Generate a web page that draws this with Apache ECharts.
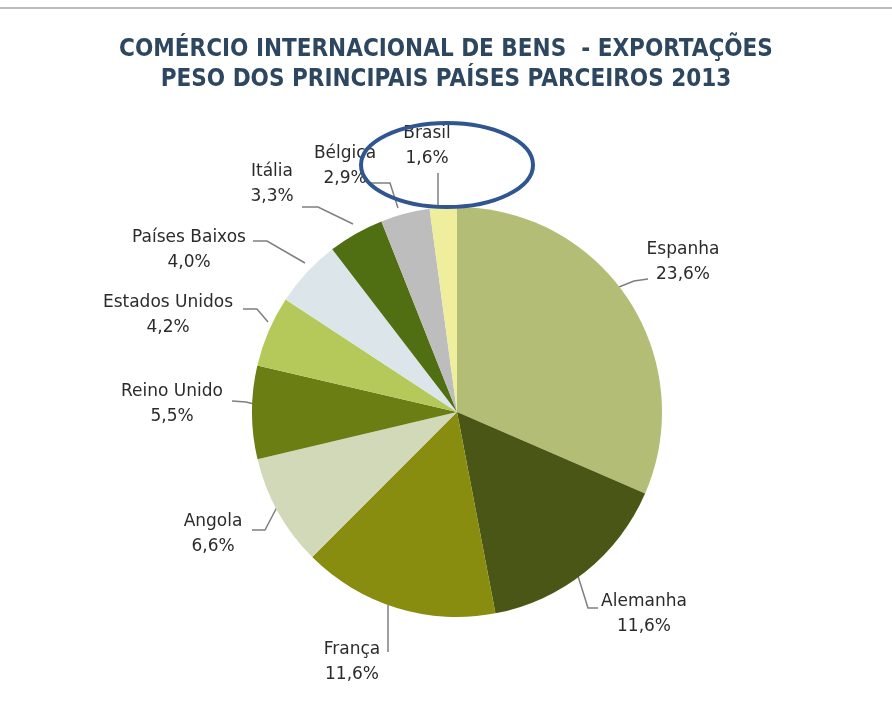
<!DOCTYPE html>
<html>
<head>
<meta charset="utf-8">
<script src="https://cdn.jsdelivr.net/npm/echarts@6/dist/echarts.min.js"></script>
<style>
  html, body { margin: 0; padding: 0; background: #fff; }
  #chart { width: 892px; height: 715px; }
</style>
</head>
<body>
<div id="chart"></div>
<script>
// países parceiros, sentido horário a partir do topo
const countries = ["Espanha", "Alemanha", "França", "Angola", "Reino Unido",
  "Estados Unidos", "Países Baixos", "Itália", "Bélgica", "Brasil"];
const shares = [23.6, 11.6, 11.6, 6.6, 5.5, 4.2, 4.0, 3.3, 2.9, 1.6];
const colors = ["#b3bd76", "#4a5615", "#898d0f", "#d2d9b9", "#6a7e14",
  "#b5c95b", "#dce6ea", "#4f6f12", "#bdbdbd", "#eeee9c"];

// onde fica o centro de cada etiqueta e o traço até à fatia (layout, não dados)
const labelCenters = [[683, 262], [644, 614], [352, 662], [213, 534], [172, 404],
  [168, 315], [189, 250], [272, 184], [345, 166], [427, 146]];
const leaderLines = [
  [[619, 287], [634, 281], [648, 279]],
  [[578, 576], [588, 608], [598, 608]],
  [[388, 605], [388, 630], [388, 652]],
  [[277, 507], [265, 530], [252, 530]],
  [[254, 404], [246, 402], [232, 401]],
  [[268, 322], [257, 309], [243, 309]],
  [[305, 263], [267, 241], [253, 241]],
  [[353, 224], [318, 207], [302, 207]],
  [[398, 208], [390, 183], [370, 183]],
  [[438, 208], [438, 190], [438, 173]],
];

const chart = echarts.init(document.getElementById("chart"));

const pieData = countries.map((name, i) => ({
  name: name,
  value: shares[i],
  itemStyle: { color: colors[i] },
}));

const option = {
  animation: false,
  title: {
    text: "COMÉRCIO INTERNACIONAL DE BENS  - EXPORTAÇÕES\nPESO DOS PRINCIPAIS PAÍSES PARCEIROS 2013",
    left: "center",
    top: 30,
    textStyle: {
      fontFamily: "DejaVu Sans Condensed",
      fontWeight: "bold",
      fontSize: 24,
      lineHeight: 30,
      color: "#2e4760",
    },
  },
  graphic: [
    {
      type: "line",
      shape: { x1: 0, y1: 8, x2: 892, y2: 8 },
      style: { stroke: "#bbbbbb", lineWidth: 2 },
    },
    {
      type: "ellipse",
      shape: { cx: 447, cy: 165, rx: 86, ry: 42 },
      style: { fill: null, stroke: "#2f5690", lineWidth: 4 },
      z: 100,
    },
  ],
  series: [
    {
      type: "pie",
      center: [457, 412],
      radius: [0, 205],
      startAngle: 90,
      clockwise: true,
      data: pieData,
      label: {
        show: true,
        formatter: (p) => "{n|" + p.name + "}\n{n|" + p.value.toFixed(1).replace(".", ",") + "%}",
        rich: {
          n: {
            fontFamily: "DejaVu Sans",
            fontSize: 17,
            lineHeight: 25,
            color: "#2b2b2b",
            align: "center",
          },
        },
      },
      labelLine: {
        show: true,
        lineStyle: { color: "#7f7f7f", width: 1.5 },
      },
      labelLayout: (params) => {
        const i = params.dataIndex;
        const c = labelCenters[i];
        return {
          x: c[0], y: c[1], align: "center", verticalAlign: "middle",
          labelLinePoints: leaderLines[i],
        };
      },
      emphasis: { disabled: true },
    },
  ],
};

chart.setOption(option);
</script>
</body>
</html>
